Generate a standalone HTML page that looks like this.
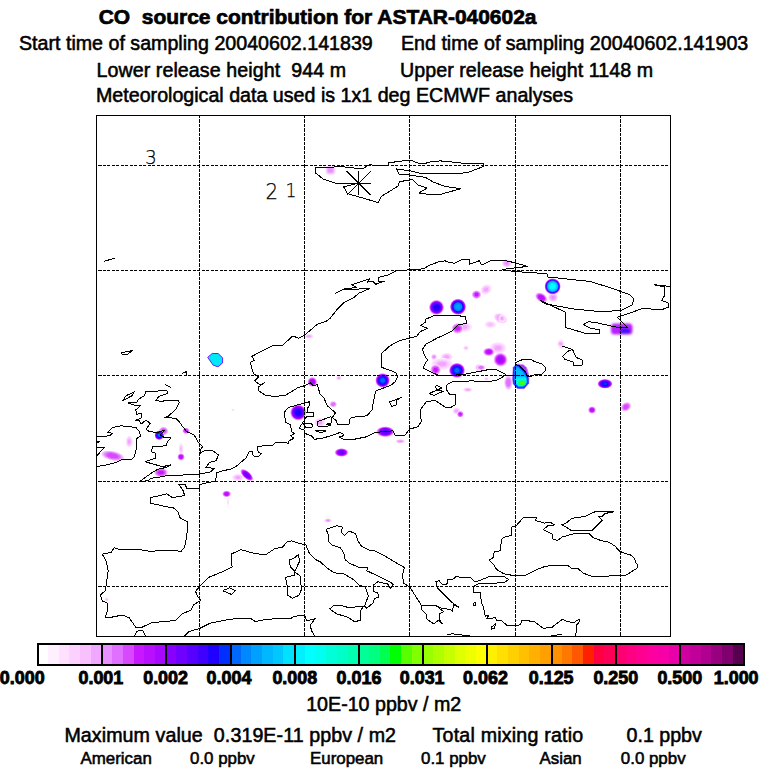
<!DOCTYPE html><html><head><meta charset="utf-8"><title>CO source contribution for ASTAR-040602a</title>
<style>html,body{margin:0;padding:0;background:#fff}body{width:768px;height:768px;overflow:hidden}svg{display:block}text{font-family:"Liberation Sans",sans-serif;fill:#000;white-space:pre;stroke:#000;stroke-width:0.55px}.b{font-weight:bold}.r{font-size:19.65px}.s{font-size:16.9px}.cb{font-size:17.9px;font-weight:bold;text-anchor:middle;stroke-width:0.85px}.b{stroke-width:0.7px}.hl{font-family:"DejaVu Sans Light","DejaVu Sans","Liberation Sans",sans-serif;font-weight:200;font-size:20px;stroke-width:0.25px}</style></head><body>
<svg width="768" height="768" viewBox="0 0 768 768">
<rect width="768" height="768" fill="#fff"/>
<defs><radialGradient id="g5_22"><stop offset="0.000" stop-color="#f0a8ff" stop-opacity="1"/><stop offset="0.083" stop-color="#f0a8ff" stop-opacity="1"/><stop offset="0.167" stop-color="#f0a8ff" stop-opacity="1"/><stop offset="0.250" stop-color="#f0a8ff" stop-opacity="1"/><stop offset="0.333" stop-color="#f0a8ff" stop-opacity="1"/><stop offset="0.417" stop-color="#f8c0ff" stop-opacity="1"/><stop offset="0.500" stop-color="#f8c0ff" stop-opacity="1"/><stop offset="0.583" stop-color="#fcd0ff" stop-opacity="1"/><stop offset="0.667" stop-color="#fcd0ff" stop-opacity="1"/><stop offset="0.750" stop-color="#ffe0ff" stop-opacity="1"/><stop offset="0.833" stop-color="#ffe0ff" stop-opacity="1"/><stop offset="0.917" stop-color="#fff0ff" stop-opacity="1"/><stop offset="1.000" stop-color="#fff0ff" stop-opacity="0"/></radialGradient><radialGradient id="g6_22"><stop offset="0.000" stop-color="#e890ff" stop-opacity="1"/><stop offset="0.083" stop-color="#e890ff" stop-opacity="1"/><stop offset="0.167" stop-color="#e890ff" stop-opacity="1"/><stop offset="0.250" stop-color="#e890ff" stop-opacity="1"/><stop offset="0.333" stop-color="#f0a8ff" stop-opacity="1"/><stop offset="0.417" stop-color="#f0a8ff" stop-opacity="1"/><stop offset="0.500" stop-color="#f0a8ff" stop-opacity="1"/><stop offset="0.583" stop-color="#f8c0ff" stop-opacity="1"/><stop offset="0.667" stop-color="#f8c0ff" stop-opacity="1"/><stop offset="0.750" stop-color="#fcd0ff" stop-opacity="1"/><stop offset="0.833" stop-color="#ffe0ff" stop-opacity="1"/><stop offset="0.917" stop-color="#fff0ff" stop-opacity="1"/><stop offset="1.000" stop-color="#fff0ff" stop-opacity="0"/></radialGradient><radialGradient id="g4_22"><stop offset="0.000" stop-color="#f8c0ff" stop-opacity="1"/><stop offset="0.083" stop-color="#f8c0ff" stop-opacity="1"/><stop offset="0.167" stop-color="#f8c0ff" stop-opacity="1"/><stop offset="0.250" stop-color="#f8c0ff" stop-opacity="1"/><stop offset="0.333" stop-color="#f8c0ff" stop-opacity="1"/><stop offset="0.417" stop-color="#fcd0ff" stop-opacity="1"/><stop offset="0.500" stop-color="#fcd0ff" stop-opacity="1"/><stop offset="0.583" stop-color="#fcd0ff" stop-opacity="1"/><stop offset="0.667" stop-color="#ffe0ff" stop-opacity="1"/><stop offset="0.750" stop-color="#ffe0ff" stop-opacity="1"/><stop offset="0.833" stop-color="#fff0ff" stop-opacity="1"/><stop offset="0.917" stop-color="#fff0ff" stop-opacity="1"/><stop offset="1.000" stop-color="#fff0ff" stop-opacity="0"/></radialGradient><radialGradient id="g2_22"><stop offset="0.000" stop-color="#ffe0ff" stop-opacity="1"/><stop offset="0.083" stop-color="#ffe0ff" stop-opacity="1"/><stop offset="0.167" stop-color="#ffe0ff" stop-opacity="1"/><stop offset="0.250" stop-color="#ffe0ff" stop-opacity="1"/><stop offset="0.333" stop-color="#ffe0ff" stop-opacity="1"/><stop offset="0.417" stop-color="#ffe0ff" stop-opacity="1"/><stop offset="0.500" stop-color="#ffe0ff" stop-opacity="1"/><stop offset="0.583" stop-color="#fff0ff" stop-opacity="1"/><stop offset="0.667" stop-color="#fff0ff" stop-opacity="1"/><stop offset="0.750" stop-color="#fff0ff" stop-opacity="1"/><stop offset="0.833" stop-color="#fff0ff" stop-opacity="1"/><stop offset="0.917" stop-color="#ffffff" stop-opacity="1"/><stop offset="1.000" stop-color="#fff0ff" stop-opacity="0"/></radialGradient><radialGradient id="g7_32"><stop offset="0.000" stop-color="#e070ff" stop-opacity="1"/><stop offset="0.083" stop-color="#e070ff" stop-opacity="1"/><stop offset="0.167" stop-color="#e070ff" stop-opacity="1"/><stop offset="0.250" stop-color="#e070ff" stop-opacity="1"/><stop offset="0.333" stop-color="#e070ff" stop-opacity="1"/><stop offset="0.417" stop-color="#e070ff" stop-opacity="1"/><stop offset="0.500" stop-color="#e890ff" stop-opacity="1"/><stop offset="0.583" stop-color="#e890ff" stop-opacity="1"/><stop offset="0.667" stop-color="#f0a8ff" stop-opacity="1"/><stop offset="0.750" stop-color="#f8c0ff" stop-opacity="1"/><stop offset="0.833" stop-color="#fcd0ff" stop-opacity="1"/><stop offset="0.917" stop-color="#ffe0ff" stop-opacity="1"/><stop offset="1.000" stop-color="#fff0ff" stop-opacity="0"/></radialGradient><radialGradient id="g3_22"><stop offset="0.000" stop-color="#fcd0ff" stop-opacity="1"/><stop offset="0.083" stop-color="#fcd0ff" stop-opacity="1"/><stop offset="0.167" stop-color="#fcd0ff" stop-opacity="1"/><stop offset="0.250" stop-color="#fcd0ff" stop-opacity="1"/><stop offset="0.333" stop-color="#fcd0ff" stop-opacity="1"/><stop offset="0.417" stop-color="#fcd0ff" stop-opacity="1"/><stop offset="0.500" stop-color="#ffe0ff" stop-opacity="1"/><stop offset="0.583" stop-color="#ffe0ff" stop-opacity="1"/><stop offset="0.667" stop-color="#ffe0ff" stop-opacity="1"/><stop offset="0.750" stop-color="#fff0ff" stop-opacity="1"/><stop offset="0.833" stop-color="#fff0ff" stop-opacity="1"/><stop offset="0.917" stop-color="#fff0ff" stop-opacity="1"/><stop offset="1.000" stop-color="#fff0ff" stop-opacity="0"/></radialGradient><radialGradient id="g8_32"><stop offset="0.000" stop-color="#d848ff" stop-opacity="1"/><stop offset="0.083" stop-color="#d848ff" stop-opacity="1"/><stop offset="0.167" stop-color="#d848ff" stop-opacity="1"/><stop offset="0.250" stop-color="#d848ff" stop-opacity="1"/><stop offset="0.333" stop-color="#d848ff" stop-opacity="1"/><stop offset="0.417" stop-color="#d848ff" stop-opacity="1"/><stop offset="0.500" stop-color="#e070ff" stop-opacity="1"/><stop offset="0.583" stop-color="#e070ff" stop-opacity="1"/><stop offset="0.667" stop-color="#e890ff" stop-opacity="1"/><stop offset="0.750" stop-color="#f0a8ff" stop-opacity="1"/><stop offset="0.833" stop-color="#f8c0ff" stop-opacity="1"/><stop offset="0.917" stop-color="#ffe0ff" stop-opacity="1"/><stop offset="1.000" stop-color="#fff0ff" stop-opacity="0"/></radialGradient><radialGradient id="g16_32"><stop offset="0.000" stop-color="#2000ff" stop-opacity="1"/><stop offset="0.083" stop-color="#2000ff" stop-opacity="1"/><stop offset="0.167" stop-color="#2000ff" stop-opacity="1"/><stop offset="0.250" stop-color="#2000ff" stop-opacity="1"/><stop offset="0.333" stop-color="#2000ff" stop-opacity="1"/><stop offset="0.417" stop-color="#4000ff" stop-opacity="1"/><stop offset="0.500" stop-color="#5800ff" stop-opacity="1"/><stop offset="0.583" stop-color="#7000ff" stop-opacity="1"/><stop offset="0.667" stop-color="#8800ff" stop-opacity="1"/><stop offset="0.750" stop-color="#b810ff" stop-opacity="1"/><stop offset="0.833" stop-color="#e070ff" stop-opacity="1"/><stop offset="0.917" stop-color="#f8c0ff" stop-opacity="1"/><stop offset="1.000" stop-color="#fff0ff" stop-opacity="0"/></radialGradient><radialGradient id="g20_32"><stop offset="0.000" stop-color="#00a0ff" stop-opacity="1"/><stop offset="0.083" stop-color="#00a0ff" stop-opacity="1"/><stop offset="0.167" stop-color="#00a0ff" stop-opacity="1"/><stop offset="0.250" stop-color="#00a0ff" stop-opacity="1"/><stop offset="0.333" stop-color="#0088ff" stop-opacity="1"/><stop offset="0.417" stop-color="#0088ff" stop-opacity="1"/><stop offset="0.500" stop-color="#0068ff" stop-opacity="1"/><stop offset="0.583" stop-color="#2000ff" stop-opacity="1"/><stop offset="0.667" stop-color="#4000ff" stop-opacity="1"/><stop offset="0.750" stop-color="#8800ff" stop-opacity="1"/><stop offset="0.833" stop-color="#c818ff" stop-opacity="1"/><stop offset="0.917" stop-color="#f0a8ff" stop-opacity="1"/><stop offset="1.000" stop-color="#fff0ff" stop-opacity="0"/></radialGradient><radialGradient id="g9_32"><stop offset="0.000" stop-color="#c818ff" stop-opacity="1"/><stop offset="0.083" stop-color="#c818ff" stop-opacity="1"/><stop offset="0.167" stop-color="#c818ff" stop-opacity="1"/><stop offset="0.250" stop-color="#c818ff" stop-opacity="1"/><stop offset="0.333" stop-color="#c818ff" stop-opacity="1"/><stop offset="0.417" stop-color="#d848ff" stop-opacity="1"/><stop offset="0.500" stop-color="#d848ff" stop-opacity="1"/><stop offset="0.583" stop-color="#e070ff" stop-opacity="1"/><stop offset="0.667" stop-color="#e070ff" stop-opacity="1"/><stop offset="0.750" stop-color="#f0a8ff" stop-opacity="1"/><stop offset="0.833" stop-color="#f8c0ff" stop-opacity="1"/><stop offset="0.917" stop-color="#ffe0ff" stop-opacity="1"/><stop offset="1.000" stop-color="#fff0ff" stop-opacity="0"/></radialGradient><radialGradient id="g10_32"><stop offset="0.000" stop-color="#b810ff" stop-opacity="1"/><stop offset="0.083" stop-color="#b810ff" stop-opacity="1"/><stop offset="0.167" stop-color="#b810ff" stop-opacity="1"/><stop offset="0.250" stop-color="#b810ff" stop-opacity="1"/><stop offset="0.333" stop-color="#b810ff" stop-opacity="1"/><stop offset="0.417" stop-color="#c818ff" stop-opacity="1"/><stop offset="0.500" stop-color="#c818ff" stop-opacity="1"/><stop offset="0.583" stop-color="#d848ff" stop-opacity="1"/><stop offset="0.667" stop-color="#e070ff" stop-opacity="1"/><stop offset="0.750" stop-color="#e890ff" stop-opacity="1"/><stop offset="0.833" stop-color="#f8c0ff" stop-opacity="1"/><stop offset="0.917" stop-color="#ffe0ff" stop-opacity="1"/><stop offset="1.000" stop-color="#fff0ff" stop-opacity="0"/></radialGradient><radialGradient id="g11_32"><stop offset="0.000" stop-color="#a808ff" stop-opacity="1"/><stop offset="0.083" stop-color="#a808ff" stop-opacity="1"/><stop offset="0.167" stop-color="#a808ff" stop-opacity="1"/><stop offset="0.250" stop-color="#a808ff" stop-opacity="1"/><stop offset="0.333" stop-color="#a808ff" stop-opacity="1"/><stop offset="0.417" stop-color="#b810ff" stop-opacity="1"/><stop offset="0.500" stop-color="#b810ff" stop-opacity="1"/><stop offset="0.583" stop-color="#c818ff" stop-opacity="1"/><stop offset="0.667" stop-color="#d848ff" stop-opacity="1"/><stop offset="0.750" stop-color="#e070ff" stop-opacity="1"/><stop offset="0.833" stop-color="#f0a8ff" stop-opacity="1"/><stop offset="0.917" stop-color="#fcd0ff" stop-opacity="1"/><stop offset="1.000" stop-color="#fff0ff" stop-opacity="0"/></radialGradient><radialGradient id="g18_32"><stop offset="0.000" stop-color="#0068ff" stop-opacity="1"/><stop offset="0.083" stop-color="#0068ff" stop-opacity="1"/><stop offset="0.167" stop-color="#0068ff" stop-opacity="1"/><stop offset="0.250" stop-color="#0068ff" stop-opacity="1"/><stop offset="0.333" stop-color="#0030ff" stop-opacity="1"/><stop offset="0.417" stop-color="#0030ff" stop-opacity="1"/><stop offset="0.500" stop-color="#2000ff" stop-opacity="1"/><stop offset="0.583" stop-color="#4000ff" stop-opacity="1"/><stop offset="0.667" stop-color="#7000ff" stop-opacity="1"/><stop offset="0.750" stop-color="#a808ff" stop-opacity="1"/><stop offset="0.833" stop-color="#d848ff" stop-opacity="1"/><stop offset="0.917" stop-color="#f8c0ff" stop-opacity="1"/><stop offset="1.000" stop-color="#fff0ff" stop-opacity="0"/></radialGradient><radialGradient id="g25_32"><stop offset="0.000" stop-color="#00ffff" stop-opacity="1"/><stop offset="0.083" stop-color="#00ffff" stop-opacity="1"/><stop offset="0.167" stop-color="#00ffff" stop-opacity="1"/><stop offset="0.250" stop-color="#00ffff" stop-opacity="1"/><stop offset="0.333" stop-color="#00f0ff" stop-opacity="1"/><stop offset="0.417" stop-color="#00e0ff" stop-opacity="1"/><stop offset="0.500" stop-color="#00c8ff" stop-opacity="1"/><stop offset="0.583" stop-color="#00b8ff" stop-opacity="1"/><stop offset="0.667" stop-color="#0068ff" stop-opacity="1"/><stop offset="0.750" stop-color="#4000ff" stop-opacity="1"/><stop offset="0.833" stop-color="#a808ff" stop-opacity="1"/><stop offset="0.917" stop-color="#e890ff" stop-opacity="1"/><stop offset="1.000" stop-color="#fff0ff" stop-opacity="0"/></radialGradient><radialGradient id="g13_32"><stop offset="0.000" stop-color="#7000ff" stop-opacity="1"/><stop offset="0.083" stop-color="#7000ff" stop-opacity="1"/><stop offset="0.167" stop-color="#7000ff" stop-opacity="1"/><stop offset="0.250" stop-color="#7000ff" stop-opacity="1"/><stop offset="0.333" stop-color="#7000ff" stop-opacity="1"/><stop offset="0.417" stop-color="#8800ff" stop-opacity="1"/><stop offset="0.500" stop-color="#8800ff" stop-opacity="1"/><stop offset="0.583" stop-color="#a808ff" stop-opacity="1"/><stop offset="0.667" stop-color="#c818ff" stop-opacity="1"/><stop offset="0.750" stop-color="#d848ff" stop-opacity="1"/><stop offset="0.833" stop-color="#e890ff" stop-opacity="1"/><stop offset="0.917" stop-color="#fcd0ff" stop-opacity="1"/><stop offset="1.000" stop-color="#fff0ff" stop-opacity="0"/></radialGradient><radialGradient id="g14_32"><stop offset="0.000" stop-color="#5800ff" stop-opacity="1"/><stop offset="0.083" stop-color="#5800ff" stop-opacity="1"/><stop offset="0.167" stop-color="#5800ff" stop-opacity="1"/><stop offset="0.250" stop-color="#5800ff" stop-opacity="1"/><stop offset="0.333" stop-color="#5800ff" stop-opacity="1"/><stop offset="0.417" stop-color="#7000ff" stop-opacity="1"/><stop offset="0.500" stop-color="#8800ff" stop-opacity="1"/><stop offset="0.583" stop-color="#8800ff" stop-opacity="1"/><stop offset="0.667" stop-color="#b810ff" stop-opacity="1"/><stop offset="0.750" stop-color="#d848ff" stop-opacity="1"/><stop offset="0.833" stop-color="#e890ff" stop-opacity="1"/><stop offset="0.917" stop-color="#fcd0ff" stop-opacity="1"/><stop offset="1.000" stop-color="#fff0ff" stop-opacity="0"/></radialGradient><radialGradient id="g17_32"><stop offset="0.000" stop-color="#0030ff" stop-opacity="1"/><stop offset="0.083" stop-color="#0030ff" stop-opacity="1"/><stop offset="0.167" stop-color="#0030ff" stop-opacity="1"/><stop offset="0.250" stop-color="#0030ff" stop-opacity="1"/><stop offset="0.333" stop-color="#2000ff" stop-opacity="1"/><stop offset="0.417" stop-color="#2000ff" stop-opacity="1"/><stop offset="0.500" stop-color="#4000ff" stop-opacity="1"/><stop offset="0.583" stop-color="#5800ff" stop-opacity="1"/><stop offset="0.667" stop-color="#8800ff" stop-opacity="1"/><stop offset="0.750" stop-color="#b810ff" stop-opacity="1"/><stop offset="0.833" stop-color="#d848ff" stop-opacity="1"/><stop offset="0.917" stop-color="#f8c0ff" stop-opacity="1"/><stop offset="1.000" stop-color="#fff0ff" stop-opacity="0"/></radialGradient><filter id="bl" x="-30%" y="-30%" width="160%" height="160%"><feGaussianBlur stdDeviation="0.9"/></filter><filter id="bl2" x="-30%" y="-30%" width="160%" height="160%"><feGaussianBlur stdDeviation="0.45"/></filter><clipPath id="mapclip"><rect x="96.5" y="115.5" width="574" height="521"/></clipPath></defs>
<g clip-path="url(#mapclip)">
<g><ellipse cx="486" cy="289.5" rx="6.25" ry="5" fill="url(#g5_22)" transform="rotate(-35 486 289.5)"/><ellipse cx="464" cy="327" rx="8.75" ry="5" fill="url(#g5_22)"/><ellipse cx="500.5" cy="318.3" rx="7.5" ry="5" fill="url(#g6_22)" transform="rotate(25 500.5 318.3)"/><ellipse cx="490.3" cy="324.5" rx="6.25" ry="3.75" fill="url(#g4_22)"/><ellipse cx="498" cy="348" rx="8.75" ry="6.25" fill="url(#g5_22)"/><ellipse cx="466" cy="348" rx="3.125" ry="2.5" fill="url(#g4_22)"/><ellipse cx="446.6" cy="356.9" rx="6.25" ry="4.375" fill="url(#g5_22)"/><ellipse cx="434" cy="356.9" rx="3.125" ry="3.125" fill="url(#g6_22)"/><ellipse cx="442" cy="364" rx="11.25" ry="6.25" fill="url(#g5_22)"/><ellipse cx="506.7" cy="263.3" rx="5" ry="4.375" fill="url(#g6_22)"/><ellipse cx="553" cy="297.3" rx="5.25" ry="5" fill="url(#g6_22)"/><ellipse cx="502" cy="318.4" rx="3.75" ry="3.75" fill="url(#g5_22)"/><ellipse cx="561" cy="344.1" rx="3.75" ry="5" fill="url(#g5_22)"/><ellipse cx="129.3" cy="441.7" rx="3.75" ry="6.25" fill="url(#g5_22)"/><ellipse cx="181" cy="449" rx="2.5" ry="6.25" fill="url(#g4_22)"/><ellipse cx="338.7" cy="378" rx="3.125" ry="2.5" fill="url(#g5_22)"/><ellipse cx="319.8" cy="422.5" rx="5.625" ry="5" fill="url(#g5_22)"/><ellipse cx="238" cy="477.5" rx="6.25" ry="3.75" fill="url(#g5_22)"/><ellipse cx="400.3" cy="441.3" rx="5" ry="2.25" fill="url(#g6_22)"/><ellipse cx="467.8" cy="389.7" rx="5" ry="2.5" fill="url(#g5_22)"/><ellipse cx="456.5" cy="411" rx="4.375" ry="3.75" fill="url(#g5_22)"/><ellipse cx="478.7" cy="367.5" rx="3.75" ry="3.75" fill="url(#g6_22)"/><ellipse cx="560.8" cy="343.8" rx="3.75" ry="3.75" fill="url(#g5_22)"/><ellipse cx="228" cy="502" rx="1.25" ry="5.625" fill="url(#g2_22)"/><ellipse cx="106.6" cy="599.5" rx="2.25" ry="2.25" fill="url(#g4_22)"/><ellipse cx="328" cy="520.5" rx="4" ry="2.25" fill="url(#g6_22)"/><ellipse cx="308.9" cy="336.3" rx="5" ry="2.5" fill="url(#g5_22)"/><ellipse cx="486.4" cy="378.8" rx="2.5" ry="1.875" fill="url(#g4_22)"/><ellipse cx="508.4" cy="382.6" rx="4.48" ry="7.84" fill="url(#g7_32)"/><ellipse cx="481" cy="367.5" rx="4.48" ry="2.8" fill="url(#g7_32)"/><ellipse cx="233" cy="410" rx="1.875" ry="1.25" fill="url(#g3_22)"/><ellipse cx="163.5" cy="431" rx="5.04" ry="4.48" fill="url(#g8_32)"/><ellipse cx="436.5" cy="307.4" rx="7.84" ry="7.84" fill="url(#g16_32)"/><ellipse cx="458" cy="306.8" rx="8.4" ry="8.4" fill="url(#g20_32)"/><ellipse cx="476.5" cy="294.6" rx="5.04" ry="4.48" fill="url(#g9_32)"/><ellipse cx="457.5" cy="328.4" rx="6.16" ry="5.6" fill="url(#g9_32)"/><ellipse cx="488.8" cy="351.9" rx="6.16" ry="4.48" fill="url(#g10_32)"/><ellipse cx="500.5" cy="359.7" rx="7.28" ry="7.28" fill="url(#g11_32)"/><ellipse cx="457" cy="370.4" rx="8.4" ry="7.84" fill="url(#g18_32)"/><ellipse cx="435.6" cy="369.8" rx="5.6" ry="5.6" fill="url(#g9_32)"/><ellipse cx="552.6" cy="286.4" rx="8.4" ry="8.4" fill="url(#g25_32)"/><ellipse cx="541.3" cy="297.6" rx="7.056" ry="4.704" fill="url(#g10_32)" transform="rotate(32 541.3 297.6)"/><ellipse cx="159.3" cy="435.2" rx="5.04" ry="5.04" fill="url(#g18_32)"/><ellipse cx="186" cy="430.8" rx="3.92" ry="3.36" fill="url(#g9_32)"/><ellipse cx="181" cy="456.9" rx="3.92" ry="3.92" fill="url(#g10_32)"/><ellipse cx="161" cy="472.5" rx="7.28" ry="5.04" fill="url(#g9_32)"/><ellipse cx="112.7" cy="455.8" rx="12.32" ry="5.04" fill="url(#g8_32)" transform="rotate(12 112.7 455.8)"/><ellipse cx="298.2" cy="412.5" rx="8.4" ry="8.4" fill="url(#g16_32)"/><ellipse cx="312.3" cy="381.9" rx="5.04" ry="5.04" fill="url(#g11_32)"/><ellipse cx="333.2" cy="404.2" rx="3.92" ry="3.36" fill="url(#g7_32)"/><ellipse cx="341.5" cy="452.5" rx="7.28" ry="4.48" fill="url(#g13_32)"/><ellipse cx="246.8" cy="475" rx="8.4" ry="3.92" fill="url(#g13_32)" transform="rotate(42 246.8 475)"/><ellipse cx="382.6" cy="380.4" rx="7.616" ry="7.616" fill="url(#g18_32)"/><ellipse cx="385.3" cy="431.7" rx="9.52" ry="5.6" fill="url(#g14_32)"/><ellipse cx="460.3" cy="414.2" rx="3.584" ry="3.584" fill="url(#g9_32)"/><ellipse cx="605" cy="383.8" rx="7.84" ry="5.04" fill="url(#g17_32)"/><ellipse cx="592" cy="410" rx="4.256" ry="3.92" fill="url(#g10_32)"/><ellipse cx="626" cy="406.8" rx="5.824" ry="4.48" fill="url(#g8_32)" transform="rotate(-35 626 406.8)"/><ellipse cx="226.6" cy="493.9" rx="4.704" ry="3.584" fill="url(#g10_32)"/><rect x="326.8" y="166.8" width="7.4" height="6.8" fill="#e890ff" filter="url(#bl)"/><g filter="url(#bl)"><rect x="611" y="323.4" width="21.5" height="11" rx="3.5" fill="#b820ff"/><ellipse cx="625.2" cy="330.9" rx="5.2" ry="2.6" fill="#3018ff"/></g><path d="M207.7,357.4 L212.2,353.5 L218.1,353.5 L222.6,357.8 L222.6,362.9 L218.1,366.8 L213.2,365.2 Z" fill="#00e8f8" stroke="#6020ff" stroke-width="1" stroke-linejoin="round"/><g filter="url(#bl2)"><path d="M515.50,365.00 L518.10,364.00 L523.30,364.70 L526.60,367.60 L528.20,372.80 L528.80,378.00 L528.80,383.30 L524.20,388.60 L517.40,388.60 L513.20,383.90 L512.50,379.30 L513.20,367.60 Z" fill="#a838ff" stroke="#d890ff" stroke-width="1" stroke-linejoin="round"/><path d="M513.2,367.6 L515.5,365.2 L518,364.6 L524.6,370.9 L527.9,376.4 L528.6,378 L528.6,383.3 L524,388.4 L517.5,388.4 L513.4,383.9 L512.7,379.3 Z" fill="#2030ff"/><path d="M514.6,368 L516.2,366.6 L517.8,366.2 L523.6,371.8 L526.3,376.6 L527.1,378.4 L527.1,382.8 L523.3,386.9 L518.2,386.9 L514.8,383.3 L514.2,379.3 Z" fill="#0098ff"/><path d="M515.6,369 L517.6,367.6 L522.8,372.5 L525.4,377 L526,379 L526,382.4 L522.8,385.8 L518.6,385.8 L515.8,382.8 L515.3,379.3 Z" fill="#00bcff"/><path d="M515.4,377.5 L525.8,377.5 L526.3,379 L526.3,382.6 L523,386.1 L518.5,386.1 L515.5,383 L515,379.5 Z" fill="#00f0f8"/><ellipse cx="521.6" cy="382.8" rx="4.6" ry="3.3" fill="#00ffb0"/><ellipse cx="522" cy="383.1" rx="3.7" ry="2.4" fill="#00ff60"/><ellipse cx="522.3" cy="383.2" rx="2.6" ry="1.3" fill="#60ff00"/></g></g>
<g stroke="#000" stroke-width="1" shape-rendering="crispEdges" fill="none">
<line x1="199.5" y1="110" x2="199.5" y2="636" stroke-dasharray="4 1 3 1"/>
<line x1="304.5" y1="110" x2="304.5" y2="636" stroke-dasharray="4 1 3 1"/>
<line x1="409.5" y1="110" x2="409.5" y2="636" stroke-dasharray="4 1 3 1"/>
<line x1="515.5" y1="110" x2="515.5" y2="636" stroke-dasharray="4 1 3 1"/>
<line x1="620.5" y1="110" x2="620.5" y2="636" stroke-dasharray="4 1 3 1"/>
<line x1="98" y1="165.5" x2="670" y2="165.5" stroke-dasharray="3 2 3 1"/><line x1="101" y1="165.5" x2="102" y2="165.5"/>
<line x1="98" y1="270.5" x2="670" y2="270.5" stroke-dasharray="3 2 3 1"/><line x1="101" y1="270.5" x2="102" y2="270.5"/>
<line x1="98" y1="375.5" x2="670" y2="375.5" stroke-dasharray="3 2 3 1"/><line x1="101" y1="375.5" x2="102" y2="375.5"/>
<line x1="98" y1="481.5" x2="670" y2="481.5" stroke-dasharray="3 2 3 1"/><line x1="101" y1="481.5" x2="102" y2="481.5"/>
<line x1="98" y1="586.5" x2="670" y2="586.5" stroke-dasharray="3 2 3 1"/><line x1="101" y1="586.5" x2="102" y2="586.5"/>
</g>
<g stroke="#000" stroke-width="1" fill="none" stroke-linejoin="round" shape-rendering="crispEdges">
<path d="M315.4,167.2 L344.3,166.9 L354,168 L363.8,168 L367.7,165.6 L371.4,164.1 L371.9,165.2 L388.3,165.5 L388.3,162.6 L394.3,162.6 L395,161.5 L401.5,161.5 L402.9,160.3 L412.2,160.3 L413.7,161.5 L418.7,163.4 L425.8,163.4 L427.3,162.5 L433.7,161.5 L441.6,160.8 L441.9,161.5 L451.6,161.5 L453,162.5 L460.2,162.5 L461.7,163.4 L483.4,163.4 L483.4,166.5 L468.8,172.2 L458.1,173.7 L421.5,173.7 L410.1,170.8 L402.9,169.8 L397.2,169.4 L396.5,168.4 L399.3,174.4 L410.1,175.1 L425.8,177.5 L433.7,182.3 L445.9,186.6 L461,188.7 L440.2,194.4 L429.4,194.4 L418.7,193 L427.3,188 L418,185.1 L412.2,179.4 L399.3,181.8 L398.6,185.8 L385.7,193.7 L381.4,196.2 L378.1,202.5 L347.5,193.6 L343.6,186.8 L357.3,183.5 L335.8,183.2 L323.4,179.3 L315.4,172.8 L315.4,167.2"/>
<path d="M670,286.4 L654.5,284.8 L664.6,287 L664.6,295.5 L661.7,300.5 L668,302.7 L668.4,307.2 L661.2,309.9 L643.3,308.3 L617.5,317.3 L627.3,327.1 L617.5,327.4 L596,322.6 L588.5,321.7 L583.3,324.7 L590.7,328.5 L599.7,329.6 L599.7,333.6 L586.2,333.6 L565,327.3 L565,312 L540.3,300.5 L544.8,303.8 L574,309 L600.8,311.7 L621,310.5 L632,305 L634,299.3 L630,294.9 L612,288.2 L589.6,281.4 L548,277 L547,273.6 L529,272.5 L513.4,271.4 L502.2,269.5 L527.5,266.4 L513.4,262.4 L508,261.3 L505,260.3 L491.7,260 L481.7,265 L479.2,260.8 L469.2,264.2 L469.2,259.2 L461.7,259.7 L454.2,263.3 L448.3,262.2 L445,260.8 L438.3,262 L430,265 L424.2,268.3 L417.5,269.7 L396.7,270.3 L388.3,275 L378.8,277.3 L378.8,281.3 L384.3,281.3 L375.9,284.2 L373,281.3 L367.1,282.2 L369.4,278.9 L351.5,284.8 L356.4,287.5 L343.7,289.1 L335.5,293.4 L341.7,290 L355.4,289.1 L369.4,288.7 L359.3,293 L353.4,297.9 L343.7,302.7 L337.8,308.6 L330,318.4 L326.1,321.3 L317.3,324.2 L310.5,330.1 L304.6,335 L298.7,338.3 L292.9,335.9 L282.1,345.7 L272.4,345.7 L262.6,350.6 L251.9,356.4 L254.2,360.4 L250.3,362.3 L251.9,369.1 L253.8,374 L258.7,377 L254.8,380.9 L259.7,384.8 L264.6,382.8 L258.7,386.7 L258.7,390.6 L264.6,394.9 L273.3,396.5 L285.1,395.5 L297.8,387.7 L304.6,385.7 L310.5,382.8 L313.4,385.7 L317.3,384.8 L320.2,394.5 L324,398.3 L327.3,405.8 L332.3,410 L335.3,413 L332.3,417.5 L336.5,420.8 L337.3,424.2 L349,424.2 L349,420 L352,417.3 L367,415.8 L372,410 L374.5,395.8 L376.2,390.8 L391.2,385 L395.3,381.7 L397.3,377.5 L396.2,373.3 L391.2,370.8 L382,367.5 L381.2,360 L381.7,353.3 L390,345.8 L400,340.5 L416.7,336.3 L420,331.7 L427.5,328.3 L420.5,325.5 L425,322.5 L425.8,319.2 L435,315.3 L456.7,315.3 L465.8,317 L466.3,323.3 L458.3,325 L451.7,331.3 L436.7,338.3 L425.8,344.2 L422.5,349.2 L424.2,355 L427.5,360 L424.2,365 L423.7,368.3 L430.3,371.7 L437.8,375 L452,375.3 L465.3,374.2 L480,371.3 L490,369.3 L496,369.3 L505.1,374.1 L507,375.6 L516.8,376 L504.5,375.9 L496,380.6 L490,381.2 L480,381.7 L472,380.8 L452,382 L447,384.7 L446.7,390 L449.5,394.2 L455.7,394.7 L455.7,404.7 L451.2,407.2 L445.3,407.2 L435.3,400.5 L426.2,401.7 L420.3,410 L421.2,421.7 L417.8,426.7 L409.5,429.2 L405.3,435 L395,435 L392.8,430.8 L375.3,432.5 L367,436.7 L352,439.7 L343.2,439.2 L339,437 L343.2,435.8 L343.2,434.2 L339.8,432.5 L330.7,435.8 L320.7,438.7 L314,439.2 L312.3,436.3 L304.8,433.3 L304,430 L299,428.3 L302.3,423.3 L304,420.8 L306.5,416.7 L313.7,416.7 L313.7,413 L307,412.5 L307.3,408.3 L309.8,405 L309.8,401.7 L304,403 L297.3,405 L288.2,407.5 L284.8,411.7 L284.8,417.5 L286,422.5 L290.7,425 L291.5,431.7 L294.8,433.3 L290.7,435.8 L294,438.3 L289,440.8 L288.2,443.3 L284,442 L275.7,442.5 L273.2,445 L264,445.8 L257.3,446.7 L258.2,452.5 L261.5,453.3 L258.2,456.7 L253.2,455.8 L252.3,451.3 L249,451.7 L245.7,458.3 L235.7,466.7 L230.7,469.2 L224,470.5 L216.8,472.5 L215.5,481 L200,484.4 L199,488.8 L186.7,488.8 L185.6,485 L179,484.4 L183.4,491 L184.5,495.5 L172.4,497.7 L166.8,493.9 L150.2,497.7 L150.9,503.2 L162.4,505.9 L173.5,508 L178.3,512 L179.7,517.6 L187.9,522 L186.7,536.4 L184.5,547.5 L181.2,551.2 L162.4,550.1 L151.3,551.5 L136.9,549.2 L118.1,549.2 L114.1,547.5 L111.5,552.3 L102.2,554.1 L106,560.7 L108.2,570.7 L107.1,578.5 L105.3,590.6 L100.4,595 L102.2,601 L107.1,602.8 L107.1,611.7 L105.3,617.2 L111.5,617.2 L122.6,615 L129.2,617.9 L135.8,627.2 L141.4,627.6 L151.3,622.7 L175.7,620.5 L182.3,613.9 L191.2,609.9 L193.4,605 L201.1,600.1 L197.4,596.2 L195.6,591.3 L200,586.2 L208.9,577.3 L222.2,571.8 L232.1,567 L231,554.1 L241,549.7 L255.4,553.7 L266,554.6 L274.9,548.6 L282.6,547 L287,541.9 L291.5,540.8 L299.2,543.5 L305.8,544.8 L309.2,553 L315.8,559.6 L320.2,561.9 L329.1,569.6 L334.6,572.9 L343.5,573.6 L354.5,580.2 L359,585.1 L365.6,587.3 L368.3,596.2 L364.5,606.1 L366.7,608.3 L373.3,602.8 L374.5,598.4 L378.4,597.3 L377.8,592.8 L373.3,591.7 L373.3,585.1 L377.8,581.8 L387.7,584 L390.4,588.4 L393.3,584.6 L390,581.8 L366.7,570.7 L367.8,567.4 L359,567.4 L349,563 L345.2,559.6 L343.9,553 L340.1,547.5 L332.4,545.3 L328,541.3 L328.4,535.3 L326.2,529.3 L336.8,525.8 L342.4,527.1 L341.3,532.6 L344.6,535.3 L349,530.9 L355.6,533.7 L357.9,540.8 L361.2,545.9 L368.9,550.1 L374.5,550.8 L385.5,556.3 L395.5,562.5 L404.3,567.4 L402.8,574 L403.2,582.9 L409.9,587.3 L421.5,605.5 L421.5,609.4 L425.9,613.9 L427,619.4 L433.7,623.8 L438.1,620.5 L442.5,623.8 L439.2,619.4 L439.2,613.9 L443.6,611.7 L435.9,605.5 L421.5,605.5 L435.9,605.5 L441.4,608.3 L450.3,609.4 L452.5,611.7 L453.6,604.5 L458.7,607.2 L452.5,602.8 L446.9,597.3 L437,587.3 L435.9,581.8 L439.2,580.7 L442.5,584.7 L446.9,584 L448,579.6 L453.6,578.9 L455.8,576.9 L470.2,577.4 L474.6,581.8 L479,580.7 L489,576.7 L503.4,576.2 L508.9,579.6 L503.4,582.9 L479,583.3 L473.5,586.2 L473.5,592.8 L480.1,592.2 L481.3,601.7 L482.4,605 L483.5,607.2 L485.2,616.1 L489,615 L486.8,618.3 L495.6,617.9 L496.7,620.5 L501.2,620.5 L507.8,626 L520,624.9 L522.2,620.1 L534.4,621.6 L543.2,628.3 L552.1,627.2 L562.4,619.3 L568.2,621.8 L574.1,622.4 L579,619.3 L579.4,621.8 L576,625.7 L576.6,629.1 L575.5,636"/>
<path d="M523.3,517.6 L536.6,517.1 L535.5,520.5 L544.3,523.1 L549.9,522 L554.3,524.9 L547.7,525.8 L543.2,529.8 L552.1,534.2 L552.1,538.6 L557.6,540.4 L562.4,536.9 L575.1,533.4 L588.7,533.4 L592.6,537.3 L600.5,540.4 L609.2,542.3 L615.1,546.3 L620,551.5 L625.8,553.5 L631.7,555.4 L634.6,558.4 L635.6,562.3 L637.9,565.2 L637.2,568.1 L624.9,575.9 L614.1,575.9 L596.5,576.3 L591.7,576.3 L582.9,573 L578,568.5 L571.2,568.1 L568.2,565.8 L549.7,565.8 L545.4,566.3 L536.6,569.6 L525.5,575.1 L514.5,575.8 L503.4,573.6 L496.7,569.6 L493.4,564.1 L489,560.3 L493.4,557.4 L494.1,551.9 L500.7,550.8 L501.2,540.4 L503.4,537.5 L511.1,535.3 L511.1,527.1 L515.6,526.4 L523.3,517.6"/>
<path d="M561.4,524.8 L565.3,523.6 L572.1,518.3 L584.8,516.4 L595.6,511.5 L609.2,511.1 L613.7,511.9 L605.3,513.4 L602,516.4 L598.1,516.4 L602.4,520.3 L592.6,530 L582.9,530 L572.1,531 L566.3,527.1 L561.4,524.8"/>
<path d="M515.5,362.7 L523.3,359.2 L530.5,359.2 L535,361.8 L541.6,363.7 L545.5,367.6 L545.5,370.2 L542.2,374.1 L535,374.5 L531.2,376.4 L527.9,376.4 L524.6,370.9 L518.8,365.3 L515.5,364.7 L515.5,362.7"/>
<path d="M562.5,346.3 L572.5,349.5 L576.3,357.5 L582,360 L582,365 L573.8,365.8 L573,362 L565,359.5 L562.5,356.3 L568,351.3 L572,349.4"/>
<path d="M146,391.3 L166.8,390.8 L167.7,393.3 L158.5,396.7 L155.7,400.8 L162.7,401.3 L166,400 L178.5,400 L179.3,402.5 L176,409.2 L167.7,416.7 L164.3,417.5 L176,418.3 L179.3,421.7 L182.7,426.7 L186.8,431.7 L194.3,435 L197.7,441.7 L202.7,446.7 L200.2,450 L200.2,453.3 L204.3,450.8 L212.7,450.8 L218.5,455 L216,460.8 L209.3,462.5 L206,467.5 L214.3,468.3 L211,471.7 L199.3,474.2 L182.7,475 L167.7,475 L162.7,476.7 L151,478.3 L147.7,480.8 L140.2,481.3 L151,473.3 L157.7,469.2 L166,467.5 L171,464.7 L162.7,466.7 L153.5,464.2 L145.2,461.7 L155.2,458.3 L156,453.3 L151,451.7 L152.7,446.7 L166,445.8 L167.7,441.7 L171,437.5 L164.3,437.5 L160.2,435 L165.2,430 L157.7,432.5 L149.3,431.7 L146,429.2 L150.2,423.3 L146,420 L141,424.2 L139.3,420.8 L135.2,420.3 L141,418.3 L141.8,413.3 L136.8,414.2 L135.7,410 L140.2,405.8 L133.5,405 L128.5,403 L136.8,402 L138.5,399.2 L144.3,395.8 L146,391.3"/>
<path d="M122.7,400.8 L126,395.8 L134.3,391.7 L131.8,395.8 L122.7,400.8"/>
<path d="M165.2,384.5 L170.7,387.6"/>
<path d="M182,373.4 L186.4,371.6 L186.4,375.4"/>
<path d="M121.4,352.8 L132.1,350.6 L127.3,354.5 L122,354.3 L121.4,352.8"/>
<path d="M103.8,261.3 L115.1,258.2"/>
<path d="M96,437 L109.3,435.8 L112.7,433.3 L107.7,432.5 L112.7,427.5 L121,425.8 L136,427.5 L139.3,431.7 L140.7,435.8 L136,439.2 L136,450 L134.3,456.7 L131.8,459.2 L121,460 L116,462.5 L106,465 L96,466.7"/>
<path d="M96,441.5 L99.3,441.7 L96,443"/>
<path d="M96,447.5 L104.3,447.5 L96,456.7"/>
<path d="M389.5,401.7 L395.7,399.7 L401.2,397.5 L396.7,400 L396.2,405 L391.7,406.3 L389.5,401.7"/>
<path d="M435.3,386.7 L437,385.3 L442,388 L437,390 L435.3,386.7"/>
<path d="M429,393.3 L437,390.3 L443.3,391.3 L433.7,395.5 L429,393.3"/>
<path d="M303.2,423.3 L310.7,423 L312.3,425 L312,427.2 L305.7,427.2 L303.2,423.3"/>
<path d="M317.3,421.7 L330.7,416.7 L332,418.3 L330.7,424.2 L328.2,423 L326.5,424.2 L330.7,425.3 L324,427 L318.2,426.7 L317.3,421.7"/>
<path d="M315.3,430.8 L322.3,430 L326,430.8 L321.5,432.8 L315.3,430.8"/>
<path d="M222.6,590.6 L229.9,587.8 L235.4,590.6 L231.5,594.4 L222.6,590.6"/>
<path d="M298.8,554.1 L293.7,558.5 L289.2,560 L290.3,567 L294.8,571.5 L299.2,562 L298.8,554.1"/>
<path d="M294.8,571.8 L300.3,576.2 L301.4,589.5 L299.2,595.1 L292.6,598.4 L287.7,595.1 L287,585.1 L285.5,577.3 L294.8,575.1 L294.8,571.8"/>
<path d="M329.7,609 L333.5,605.5 L341.3,605.5 L349,607.7 L363.4,606.1 L360.1,611.7 L360.1,620.5 L354.5,621.6 L347.9,617.2 L336.8,613.9 L329.7,609"/>
<path d="M134.7,636 L137,631.1 L142.5,630.5 L145.8,636"/>
<path d="M184.5,636 L189,631.6 L200,628.3 L210,623.2 L228.8,619.4 L239.9,618.3 L250.9,618.7 L255.4,621.6 L266,619.4 L277.1,618.7 L290.3,618.7 L294.8,616.1 L304.7,615.6 L306.9,621 L315.1,618.7 L310.3,624.9 L311.4,630.5 L314.7,636"/>
<path d="M447,634.9 L452.5,633.8 L461.3,634.9 L470,636"/>
<path d="M550.6,636 L562.4,634.1"/>
<path d="M491.2,627.2 L495.6,623.8 L494.5,628.3 L491.2,629.4 L491.2,627.2"/>
<path d="M473.5,602.8 L475.7,602.8 L475.7,605.5 L473.5,605.5 L473.5,602.8"/>
<path d="M358.7,170.7 V194.7 M346.7,183.2 H370.7 M346.7,171.2 L370.7,195.2 M370.7,171.2 L346.7,195.2"/>
</g>
</g>
<rect x="96.5" y="115.5" width="574" height="521" fill="none" stroke="#000" stroke-width="1" shape-rendering="crispEdges"/>
<text class="hl" x="145" y="164.3" textLength="11.8" lengthAdjust="spacingAndGlyphs">3</text>
<text class="hl" style="font-size:21.5px" x="265.6" y="198.8" textLength="12.6" lengthAdjust="spacingAndGlyphs">2</text>
<text class="hl" x="285.5" y="197.2" textLength="11" lengthAdjust="spacingAndGlyphs">1</text>
<rect x="37.30" y="645" width="11.00" height="19" fill="#ffffff" shape-rendering="crispEdges"/>
<rect x="48.00" y="645" width="11.00" height="19" fill="#fff0ff" shape-rendering="crispEdges"/>
<rect x="58.70" y="645" width="11.00" height="19" fill="#ffe0ff" shape-rendering="crispEdges"/>
<rect x="69.39" y="645" width="11.00" height="19" fill="#fcd0ff" shape-rendering="crispEdges"/>
<rect x="80.09" y="645" width="11.00" height="19" fill="#f8c0ff" shape-rendering="crispEdges"/>
<rect x="90.79" y="645" width="11.00" height="19" fill="#f0a8ff" shape-rendering="crispEdges"/>
<rect x="101.49" y="645" width="11.00" height="19" fill="#e890ff" shape-rendering="crispEdges"/>
<rect x="112.19" y="645" width="11.00" height="19" fill="#e070ff" shape-rendering="crispEdges"/>
<rect x="122.89" y="645" width="11.00" height="19" fill="#d848ff" shape-rendering="crispEdges"/>
<rect x="133.58" y="645" width="11.00" height="19" fill="#c818ff" shape-rendering="crispEdges"/>
<rect x="144.28" y="645" width="11.00" height="19" fill="#b810ff" shape-rendering="crispEdges"/>
<rect x="154.98" y="645" width="11.00" height="19" fill="#a808ff" shape-rendering="crispEdges"/>
<rect x="165.68" y="645" width="11.00" height="19" fill="#8800ff" shape-rendering="crispEdges"/>
<rect x="176.38" y="645" width="11.00" height="19" fill="#7000ff" shape-rendering="crispEdges"/>
<rect x="187.08" y="645" width="11.00" height="19" fill="#5800ff" shape-rendering="crispEdges"/>
<rect x="197.78" y="645" width="11.00" height="19" fill="#4000ff" shape-rendering="crispEdges"/>
<rect x="208.47" y="645" width="11.00" height="19" fill="#2000ff" shape-rendering="crispEdges"/>
<rect x="219.17" y="645" width="11.00" height="19" fill="#0030ff" shape-rendering="crispEdges"/>
<rect x="229.87" y="645" width="11.00" height="19" fill="#0068ff" shape-rendering="crispEdges"/>
<rect x="240.57" y="645" width="11.00" height="19" fill="#0088ff" shape-rendering="crispEdges"/>
<rect x="251.27" y="645" width="11.00" height="19" fill="#00a0ff" shape-rendering="crispEdges"/>
<rect x="261.97" y="645" width="11.00" height="19" fill="#00b8ff" shape-rendering="crispEdges"/>
<rect x="272.66" y="645" width="11.00" height="19" fill="#00c8ff" shape-rendering="crispEdges"/>
<rect x="283.36" y="645" width="11.00" height="19" fill="#00e0ff" shape-rendering="crispEdges"/>
<rect x="294.06" y="645" width="11.00" height="19" fill="#00f0ff" shape-rendering="crispEdges"/>
<rect x="304.76" y="645" width="11.00" height="19" fill="#00ffff" shape-rendering="crispEdges"/>
<rect x="315.46" y="645" width="11.00" height="19" fill="#00fff0" shape-rendering="crispEdges"/>
<rect x="326.15" y="645" width="11.00" height="19" fill="#00ffd8" shape-rendering="crispEdges"/>
<rect x="336.85" y="645" width="11.00" height="19" fill="#00ffc8" shape-rendering="crispEdges"/>
<rect x="347.55" y="645" width="11.00" height="19" fill="#00ffb0" shape-rendering="crispEdges"/>
<rect x="358.25" y="645" width="11.00" height="19" fill="#00ff98" shape-rendering="crispEdges"/>
<rect x="368.95" y="645" width="11.00" height="19" fill="#00ff80" shape-rendering="crispEdges"/>
<rect x="379.65" y="645" width="11.00" height="19" fill="#00ff50" shape-rendering="crispEdges"/>
<rect x="390.35" y="645" width="11.00" height="19" fill="#00ff00" shape-rendering="crispEdges"/>
<rect x="401.04" y="645" width="11.00" height="19" fill="#58ff00" shape-rendering="crispEdges"/>
<rect x="411.74" y="645" width="11.00" height="19" fill="#80ff00" shape-rendering="crispEdges"/>
<rect x="422.44" y="645" width="11.00" height="19" fill="#98ff00" shape-rendering="crispEdges"/>
<rect x="433.14" y="645" width="11.00" height="19" fill="#b0ff00" shape-rendering="crispEdges"/>
<rect x="443.84" y="645" width="11.00" height="19" fill="#c8ff00" shape-rendering="crispEdges"/>
<rect x="454.53" y="645" width="11.00" height="19" fill="#e0ff00" shape-rendering="crispEdges"/>
<rect x="465.23" y="645" width="11.00" height="19" fill="#f0ff00" shape-rendering="crispEdges"/>
<rect x="475.93" y="645" width="11.00" height="19" fill="#ffff00" shape-rendering="crispEdges"/>
<rect x="486.63" y="645" width="11.00" height="19" fill="#fff000" shape-rendering="crispEdges"/>
<rect x="497.33" y="645" width="11.00" height="19" fill="#ffe000" shape-rendering="crispEdges"/>
<rect x="508.03" y="645" width="11.00" height="19" fill="#ffd000" shape-rendering="crispEdges"/>
<rect x="518.73" y="645" width="11.00" height="19" fill="#ffc000" shape-rendering="crispEdges"/>
<rect x="529.42" y="645" width="11.00" height="19" fill="#ffb000" shape-rendering="crispEdges"/>
<rect x="540.12" y="645" width="11.00" height="19" fill="#ffa000" shape-rendering="crispEdges"/>
<rect x="550.82" y="645" width="11.00" height="19" fill="#ff9000" shape-rendering="crispEdges"/>
<rect x="561.52" y="645" width="11.00" height="19" fill="#ff7800" shape-rendering="crispEdges"/>
<rect x="572.22" y="645" width="11.00" height="19" fill="#ff5800" shape-rendering="crispEdges"/>
<rect x="582.91" y="645" width="11.00" height="19" fill="#ff2000" shape-rendering="crispEdges"/>
<rect x="593.61" y="645" width="11.00" height="19" fill="#ff0040" shape-rendering="crispEdges"/>
<rect x="604.31" y="645" width="11.00" height="19" fill="#ff0058" shape-rendering="crispEdges"/>
<rect x="615.01" y="645" width="11.00" height="19" fill="#ff0070" shape-rendering="crispEdges"/>
<rect x="625.71" y="645" width="11.00" height="19" fill="#ff0080" shape-rendering="crispEdges"/>
<rect x="636.41" y="645" width="11.00" height="19" fill="#ff0090" shape-rendering="crispEdges"/>
<rect x="647.11" y="645" width="11.00" height="19" fill="#ff00a0" shape-rendering="crispEdges"/>
<rect x="657.80" y="645" width="11.00" height="19" fill="#f800a8" shape-rendering="crispEdges"/>
<rect x="668.50" y="645" width="11.00" height="19" fill="#e800a8" shape-rendering="crispEdges"/>
<rect x="679.20" y="645" width="11.00" height="19" fill="#d000a0" shape-rendering="crispEdges"/>
<rect x="689.90" y="645" width="11.00" height="19" fill="#c00098" shape-rendering="crispEdges"/>
<rect x="700.60" y="645" width="11.00" height="19" fill="#b00090" shape-rendering="crispEdges"/>
<rect x="711.29" y="645" width="11.00" height="19" fill="#980080" shape-rendering="crispEdges"/>
<rect x="721.99" y="645" width="11.00" height="19" fill="#800070" shape-rendering="crispEdges"/>
<rect x="732.69" y="645" width="11.00" height="19" fill="#580050" shape-rendering="crispEdges"/>
<g stroke="#000" stroke-width="2" fill="none" shape-rendering="crispEdges">
<rect x="38" y="644" width="706.09" height="21"/>
<line x1="102.19" y1="645" x2="102.19" y2="664"/>
<line x1="166.38" y1="645" x2="166.38" y2="664"/>
<line x1="230.57" y1="645" x2="230.57" y2="664"/>
<line x1="294.76" y1="645" x2="294.76" y2="664"/>
<line x1="358.95" y1="645" x2="358.95" y2="664"/>
<line x1="423.14" y1="645" x2="423.14" y2="664"/>
<line x1="487.33" y1="645" x2="487.33" y2="664"/>
<line x1="551.52" y1="645" x2="551.52" y2="664"/>
<line x1="615.71" y1="645" x2="615.71" y2="664"/>
<line x1="679.90" y1="645" x2="679.90" y2="664"/>
</g>
<text class="cb" style="text-anchor:end" x="44.6" y="683.7">0.000</text>
<text class="cb" x="100.9" y="683.6">0.001</text>
<text class="cb" x="165.6" y="683.6">0.002</text>
<text class="cb" x="229" y="683.6">0.004</text>
<text class="cb" x="294.8" y="683.6">0.008</text>
<text class="cb" x="359" y="683.6">0.016</text>
<text class="cb" x="422.2" y="683.6">0.031</text>
<text class="cb" x="485.5" y="683.6">0.062</text>
<text class="cb" x="551.2" y="683.6">0.125</text>
<text class="cb" x="615.8" y="683.6">0.250</text>
<text class="cb" x="679.8" y="683.6">0.500</text>
<text class="cb" x="736.2" y="683.6">1.000</text>
<text class="b" style="font-size:20.96px" x="98.7" y="23.5">CO  source contribution for ASTAR-040602a</text>
<text class="r" x="19" y="49.8">Start time of sampling 20040602.141839</text>
<text class="r" x="401" y="49.8">End time of sampling 20040602.141903</text>
<text class="r" x="96.5" y="76.7" textLength="249.6">Lower release height  944 m</text>
<text class="r" x="400" y="76.7" textLength="253">Upper release height 1148 m</text>
<text class="r" x="96" y="101.6">Meteorological data used is 1x1 deg ECMWF analyses</text>
<text class="r" x="306.2" y="710.7">10E-10 ppbv / m2</text>
<text class="r" x="64.4" y="741.5" textLength="331.6">Maximum value  0.319E-11 ppbv / m2</text>
<text class="r" x="432.6" y="741.5" textLength="150.6">Total mixing ratio</text>
<text class="r" x="626.5" y="741.5">0.1 ppbv</text>
<text class="s" x="80.5" y="763.9">American</text>
<text class="s" x="190" y="763.9">0.0 ppbv</text>
<text class="s" x="310" y="763.9">European</text>
<text class="s" x="421" y="763.9">0.1 ppbv</text>
<text class="s" x="539.5" y="763.9">Asian</text>
<text class="s" x="620.8" y="763.9">0.0 ppbv</text>
</svg></body></html>
